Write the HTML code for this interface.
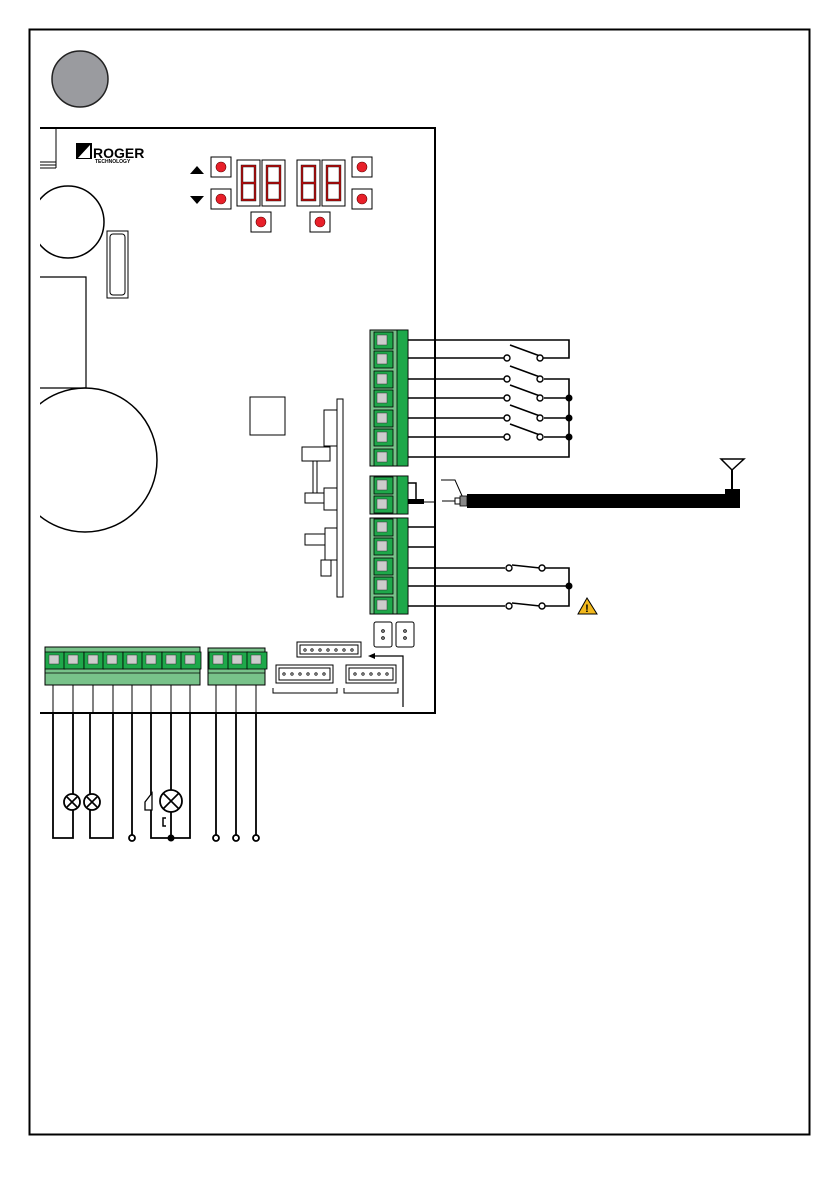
<!DOCTYPE html>
<html><head><meta charset="utf-8"><style>
html,body{margin:0;padding:0;background:#fff}
svg{display:block}
</style></head><body>
<svg width="840" height="1192" viewBox="0 0 840 1192" xmlns="http://www.w3.org/2000/svg">
<defs>
<g id="term">
<rect x="0" y="0" width="20" height="17" fill="#1ea84a" stroke="#000" stroke-width="0.8"/>
<rect x="4" y="3" width="10" height="9" fill="#ccc" stroke="#333" stroke-width="0.5"/>
</g>
<g id="vterm">
<rect x="0" y="0" width="19" height="17" fill="#1ea84a" stroke="#000" stroke-width="0.8"/>
<rect x="3" y="3" width="10" height="10" fill="#ccc" stroke="#333" stroke-width="0.5"/>
</g>
<g id="btn">
<rect x="0" y="0" width="20" height="20" fill="#fff" stroke="#000" stroke-width="1"/>
<circle cx="10" cy="10" r="5" fill="#e8202a" stroke="#600" stroke-width="0.6"/>
</g>
<g id="digit">
<rect x="0" y="0" width="23" height="46" fill="#fff" stroke="#000" stroke-width="1"/>
<path d="M5 6 H18 V40 H5 Z M5 23 H18" fill="none" stroke="#222" stroke-width="2.4"/>
<path d="M5 6 H18 V40 H5 Z M5 23 H18" fill="none" stroke="#d00" stroke-width="1.2"/>
</g>
</defs>
<rect x="29.5" y="29.5" width="780" height="1105" fill="none" stroke="#000" stroke-width="2"/>
<circle cx="80" cy="79" r="28" fill="#9a9b9f" stroke="#222" stroke-width="1.5"/>

<path d="M40 128 H435 V713 H40" fill="none" stroke="#000" stroke-width="2"/>
<path d="M56 128 V168 M40 162 H56 M40 165 H56 M40 168 H56" fill="none" stroke="#000" stroke-width="1"/>
<rect x="76" y="143" width="16" height="16" fill="#000"/>
<polygon points="78,158 90,145 90,158" fill="#fff"/>
<text x="93" y="158" font-family="Liberation Sans, sans-serif" font-size="14" font-weight="bold">ROGER</text>
<text x="95" y="163" font-family="Liberation Sans, sans-serif" font-size="5" font-weight="bold">TECHNOLOGY</text>

<clipPath id="cl"><rect x="40" y="128" width="400" height="600"/></clipPath>
<g clip-path="url(#cl)" fill="none" stroke="#000" stroke-width="1.5">
<circle cx="68" cy="222" r="36"/>
<circle cx="85" cy="460" r="72"/>
</g>
<path d="M40 277 H86 V388 H40" fill="none" stroke="#000" stroke-width="1.2"/>
<rect x="107" y="231" width="21" height="67" fill="none" stroke="#000" stroke-width="1"/>
<rect x="110" y="234" width="15" height="61" rx="3" fill="none" stroke="#000" stroke-width="1"/>

<polygon points="190,174 204,174 197,166" fill="#000"/>
<polygon points="190,196 204,196 197,204" fill="#000"/>
<use href="#btn" x="211" y="157"/>
<use href="#btn" x="211" y="189"/>
<use href="#digit" x="237" y="160"/>
<use href="#digit" x="262" y="160"/>
<use href="#digit" x="297" y="160"/>
<use href="#digit" x="322" y="160"/>
<use href="#btn" x="251" y="212"/>
<use href="#btn" x="310" y="212"/>
<use href="#btn" x="352" y="157"/>
<use href="#btn" x="352" y="189"/>

<rect x="250" y="397" width="35" height="38" fill="none" stroke="#000" stroke-width="1"/>

<g fill="#fff" stroke="#000" stroke-width="1">
<rect x="337" y="399" width="6" height="198"/>
<rect x="324" y="410" width="13" height="36"/>
<rect x="302" y="447" width="28" height="14"/>
<path d="M313 461 V493 M317 461 V493"/>
<rect x="324" y="488" width="13" height="22"/>
<rect x="305" y="493" width="19" height="10"/>
<rect x="325" y="528" width="12" height="32"/>
<rect x="305" y="534" width="20" height="11"/>
<rect x="321" y="560" width="10" height="16"/>
</g>

<g>
<rect x="370" y="330" width="38" height="136" fill="#78c28a" stroke="#000" stroke-width="1"/>
<rect x="397" y="330" width="11" height="136" fill="#1ea84a" stroke="#000" stroke-width="0.8"/>
<use href="#vterm" x="374" y="332"/><use href="#vterm" x="374" y="351"/><use href="#vterm" x="374" y="371"/>
<use href="#vterm" x="374" y="390"/><use href="#vterm" x="374" y="410"/><use href="#vterm" x="374" y="429"/><use href="#vterm" x="374" y="449"/>
<rect x="370" y="476" width="38" height="38" fill="#78c28a" stroke="#000" stroke-width="1"/>
<rect x="397" y="476" width="11" height="38" fill="#1ea84a" stroke="#000" stroke-width="0.8"/>
<use href="#vterm" x="374" y="477"/><use href="#vterm" x="374" y="496"/>
<rect x="370" y="518" width="38" height="96" fill="#78c28a" stroke="#000" stroke-width="1"/>
<rect x="397" y="518" width="11" height="96" fill="#1ea84a" stroke="#000" stroke-width="0.8"/>
<use href="#vterm" x="374" y="519"/><use href="#vterm" x="374" y="538"/><use href="#vterm" x="374" y="558"/><use href="#vterm" x="374" y="577"/><use href="#vterm" x="374" y="597"/>
</g>

<g fill="none" stroke="#000" stroke-width="1.6">
<path d="M408 340 H569 V358 H541"/>
<path d="M408 358 H505"/>
<path d="M408 379 H505 M544 379 H569 V457 H408"/>
<path d="M408 398 H505 M544 398 H569"/>
<path d="M408 418 H505 M544 418 H569"/>
<path d="M408 437 H505 M544 437 H569"/>
<path d="M510 345 L540 356 M510 366 L540 377 M510 385 L540 396 M510 405 L540 416 M510 424 L540 435"/>
<path d="M408 527 H435 M408 547 H435"/>
<path d="M408 568 H505 M544 568 H569 V606 H544 M408 586 H569 M408 606 H505"/>
<path d="M512 565 L540 568 M512 603 L540 606"/>
</g>
<g fill="#fff" stroke="#000" stroke-width="1.4">
<circle cx="507" cy="358" r="3"/><circle cx="540" cy="358" r="3"/>
<circle cx="507" cy="379" r="3"/><circle cx="540" cy="379" r="3"/>
<circle cx="507" cy="398" r="3"/><circle cx="540" cy="398" r="3"/>
<circle cx="507" cy="418" r="3"/><circle cx="540" cy="418" r="3"/>
<circle cx="507" cy="437" r="3"/><circle cx="540" cy="437" r="3"/>
<circle cx="509" cy="568" r="3"/><circle cx="542" cy="568" r="3"/>
<circle cx="509" cy="606" r="3"/><circle cx="542" cy="606" r="3"/>
</g>
<g fill="#000"><circle cx="569" cy="398" r="3.5"/><circle cx="569" cy="418" r="3.5"/><circle cx="569" cy="437" r="3.5"/><circle cx="569" cy="586" r="3.5"/></g>
<polygon points="587,598 578,614 597,614" fill="#f2b81c" stroke="#000" stroke-width="1"/>
<text x="587" y="612" text-anchor="middle" font-family="Liberation Sans, sans-serif" font-size="11" font-weight="bold">!</text>

<path d="M408 483 H416 V500" fill="none" stroke="#000" stroke-width="1.5"/>
<rect x="408" y="499" width="16" height="5" fill="#000"/>
<path d="M424 502 H435" stroke="#000" stroke-width="1"/>
<path d="M441 480 H455 L463 498 M442 501 H455" fill="none" stroke="#000" stroke-width="1"/>
<rect x="455" y="498" width="5" height="6" fill="#fff" stroke="#000" stroke-width="1"/>
<rect x="460" y="496" width="7" height="10" fill="#888" stroke="#000" stroke-width="0.8"/>
<rect x="467" y="494" width="273" height="14" fill="#000"/>
<rect x="725" y="489" width="15" height="19" fill="#000"/>
<path d="M732 489 V470" stroke="#000" stroke-width="2"/>
<polygon points="721,459 744,459 732,470" fill="#fff" stroke="#000" stroke-width="1.5"/>

<g fill="#fff" stroke="#000" stroke-width="1">
<rect x="374" y="622" width="18" height="25" rx="2"/><circle cx="383" cy="631" r="1.3"/><circle cx="383" cy="638" r="1.3"/>
<rect x="396" y="622" width="18" height="25" rx="2"/><circle cx="405" cy="631" r="1.3"/><circle cx="405" cy="638" r="1.3"/>
<rect x="297" y="642" width="64" height="15"/><rect x="300" y="645" width="58" height="9"/>
<rect x="276" y="665" width="57" height="18"/><rect x="279" y="668" width="51" height="12"/>
<rect x="346" y="665" width="50" height="18"/><rect x="349" y="668" width="44" height="12"/>
</g>
<g fill="#fff" stroke="#000" stroke-width="0.8">
<circle cx="305" cy="650" r="1.2"/><circle cx="312" cy="650" r="1.2"/><circle cx="320" cy="650" r="1.2"/><circle cx="328" cy="650" r="1.2"/><circle cx="336" cy="650" r="1.2"/><circle cx="344" cy="650" r="1.2"/><circle cx="352" cy="650" r="1.2"/>
<circle cx="284" cy="674" r="1.2"/><circle cx="292" cy="674" r="1.2"/><circle cx="300" cy="674" r="1.2"/><circle cx="308" cy="674" r="1.2"/><circle cx="316" cy="674" r="1.2"/><circle cx="324" cy="674" r="1.2"/>
<circle cx="355" cy="674" r="1.2"/><circle cx="363" cy="674" r="1.2"/><circle cx="371" cy="674" r="1.2"/><circle cx="379" cy="674" r="1.2"/><circle cx="387" cy="674" r="1.2"/>
</g>
<path d="M403 707 V656 H374" fill="none" stroke="#000" stroke-width="1.2"/>
<polygon points="368,656 375,653 375,659" fill="#000"/>
<path d="M273 688 V693 H337 V688 M344 688 V693 H398 V688" fill="none" stroke="#000" stroke-width="1"/>

<rect x="45" y="647" width="155" height="38" fill="#78c28a" stroke="#000" stroke-width="1"/>
<path d="M45 673 H200" stroke="#000" stroke-width="0.8"/>
<use href="#term" x="45" y="652"/><use href="#term" x="64" y="652"/><use href="#term" x="84" y="652"/><use href="#term" x="103" y="652"/>
<use href="#term" x="123" y="652"/><use href="#term" x="142" y="652"/><use href="#term" x="162" y="652"/><use href="#term" x="181" y="652"/>
<rect x="208" y="648" width="57" height="37" fill="#78c28a" stroke="#000" stroke-width="1"/>
<path d="M208 673 H265" stroke="#000" stroke-width="0.8"/>
<use href="#term" x="209" y="652"/><use href="#term" x="228" y="652"/><use href="#term" x="247" y="652"/>

<g fill="none" stroke="#000" stroke-width="1">
<path d="M53 685 V713 M73 685 V713 M93 685 V713 M113 685 V713 M132 685 V713 M151 685 V713 M171 685 V713 M190 685 V713 M216 685 V713 M236 685 V713 M256 685 V713"/>
</g>
<g fill="none" stroke="#000" stroke-width="1.8">
<path d="M53 713 V838 H73 V810 M73 794 V713"/>
<path d="M90 713 V838 H113 V713"/>
<path d="M132 713 V835"/>
<path d="M151 713 V838 H190 V713"/>
<path d="M171 713 V790 M171 812 V838"/>
<path d="M216 713 V835 M236 713 V835 M256 713 V835"/>
</g>
<g fill="#fff" stroke="#000" stroke-width="1.8">
<circle cx="72" cy="802" r="8"/><circle cx="92" cy="802" r="8"/><circle cx="171" cy="801" r="11"/>
<circle cx="132" cy="838" r="3"/><circle cx="216" cy="838" r="3"/><circle cx="236" cy="838" r="3"/><circle cx="256" cy="838" r="3"/>
</g>
<path d="M67 797 L77 807 M77 797 L67 807 M87 797 L97 807 M97 797 L87 807 M163 793 L179 809 M179 793 L163 809" stroke="#000" stroke-width="1.6"/>
<circle cx="171" cy="838" r="3.5" fill="#000"/>
<path d="M145 802 L152 793 V810 H145 Z" fill="#fff" stroke="#000" stroke-width="1.3"/>
<path d="M166 818 H163 V826 H166" fill="none" stroke="#000" stroke-width="1.5"/>
</svg>
</body></html>
